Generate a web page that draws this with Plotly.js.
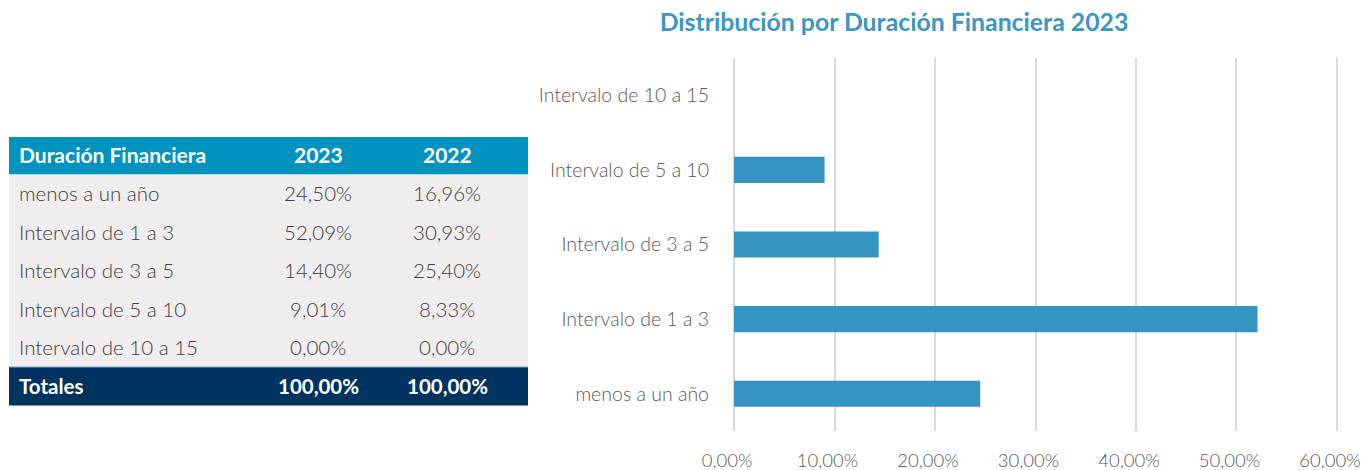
<!DOCTYPE html>
<html>
<head>
<meta charset="utf-8">
<script src="https://cdn.plot.ly/plotly-3.0.1.min.js"></script>
<style>html,body{margin:0;padding:0;background:#fff;}#chart{width:1364px;height:470px;}</style>
</head>
<body>
<div id="chart"></div>
<script>
const categories = ["menos a un año", "Intervalo de 1 a 3", "Intervalo de 3 a 5", "Intervalo de 5 a 10", "Intervalo de 10 a 15"];
const values2023 = [24.50, 52.09, 14.40, 9.01, 0.00];
const values2022 = [16.96, 30.93, 25.40, 8.33, 0.00];
const tableHeader = ["Duración Financiera", "2023", "2022"];
const totalLabel = "Totales";
const total2023 = 100.00;
const total2022 = 100.00;
const chartTitle = "Distribución por Duración Financiera 2023";

const W = 1364, H = 470;
const LATO = 'Lato, sans-serif';
const LATO_LIGHT = '"Lato Light", Lato, sans-serif';
const fmt = v => v.toFixed(2).replace('.', ',') + '%';
const px = x => x / W;
const py = y => 1 - y / H;

// ---- table geometry (pixels) ----
const tblLeft = 9, tblRight = 528;
const headTop = 137, headH = 37.5;
const rowH = 38.5;
const colText = [{x: 17, anchor: 'left'}, {x: 318, anchor: 'center'}, {x: 447, anchor: 'center'}];

const shapes = [];
const annotations = [];

// header
shapes.push({type: 'rect', xref: 'paper', yref: 'paper', x0: px(tblLeft), x1: px(tblRight),
  y0: py(headTop + headH), y1: py(headTop), fillcolor: '#0093c0', line: {width: 0}, layer: 'below'});
tableHeader.forEach((h, j) => annotations.push({
  xref: 'paper', yref: 'paper', x: px(colText[j].x), y: py(headTop + headH / 2 - 1),
  xanchor: colText[j].anchor, yanchor: 'middle', showarrow: false,
  text: '<b>' + h + '</b>', font: {family: LATO, size: 21, color: '#ffffff'}
}));

// body rows
const rows = categories.map((c, i) => [c, fmt(values2023[i]), fmt(values2022[i])]);
const bodyTop = headTop + headH;
shapes.push({type: 'rect', xref: 'paper', yref: 'paper', x0: px(tblLeft), x1: px(tblRight),
  y0: py(bodyTop + rows.length * rowH), y1: py(bodyTop), fillcolor: '#efedee', line: {width: 0}, layer: 'below'});
rows.forEach((r, i) => r.forEach((t, j) => annotations.push({
  xref: 'paper', yref: 'paper', x: px(colText[j].x), y: py(bodyTop + i * rowH + rowH / 2 - 0.5),
  xanchor: colText[j].anchor, yanchor: 'middle', showarrow: false,
  text: t, font: {family: LATO_LIGHT, size: 20.5, color: '#404040', weight: 300}
})));

// totals row
const totTop = bodyTop + rows.length * rowH;
shapes.push({type: 'rect', xref: 'paper', yref: 'paper', x0: px(tblLeft), x1: px(tblRight),
  y0: py(totTop + rowH), y1: py(totTop), fillcolor: '#00335f', line: {width: 0}, layer: 'below'});
shapes.push({type: 'line', xref: 'paper', yref: 'paper', x0: px(tblLeft), x1: px(tblRight),
  y0: py(totTop), y1: py(totTop), line: {width: 1, color: '#8aa3b8'}});
[totalLabel, fmt(total2023), fmt(total2022)].forEach((t, j) => annotations.push({
  xref: 'paper', yref: 'paper', x: px(colText[j].x), y: py(totTop + rowH / 2 - 0.5),
  xanchor: colText[j].anchor, yanchor: 'middle', showarrow: false,
  text: '<b>' + t + '</b>', font: {family: LATO, size: 20.5, color: '#ffffff'}
}));

const bars = {
  type: 'bar',
  orientation: 'h',
  x: values2023,
  y: categories,
  width: 0.35,
  marker: {color: '#3594c1'},
  hoverinfo: 'x+y'
};

const layout = {
  width: W, height: H,
  margin: {l: 0, r: 0, t: 0, b: 0},
  paper_bgcolor: '#ffffff',
  plot_bgcolor: '#ffffff',
  separators: ',.',
  showlegend: false,
  shapes: shapes,
  annotations: annotations,
  title: {
    text: '<b>' + chartTitle + '</b>',
    x: px(894), xanchor: 'center',
    y: py(22), yanchor: 'middle',
    xref: 'container', yref: 'container',
    font: {family: LATO, size: 24.8, color: '#3a96c2'}
  },
  xaxis: {
    domain: [px(732), px(1339)],
    range: [-0.2, 60.2],
    tick0: 0,
    dtick: 10,
    tickformat: '.2f',
    ticksuffix: '%',
    showgrid: true,
    gridcolor: '#d9d9d9',
    gridwidth: 2,
    zeroline: false,
    showline: false,
    ticks: '',
    ticklabelstandoff: 16,
    ticklabelshift: -7,
    tickfont: {family: LATO_LIGHT, size: 18.5, color: '#595959', weight: 300},
    fixedrange: true
  },
  yaxis: {
    domain: [1 - 431 / H, 1 - 58 / H],
    type: 'category',
    categoryorder: 'array',
    categoryarray: categories,
    showgrid: false,
    zeroline: false,
    showline: false,
    ticks: '',
    ticklabelstandoff: 22,
    tickfont: {family: LATO_LIGHT, size: 19.5, color: '#595959', weight: 300},
    fixedrange: true
  }
};

Plotly.newPlot('chart', [bars], layout, {displayModeBar: false, staticPlot: true});
</script>
</body>
</html>
